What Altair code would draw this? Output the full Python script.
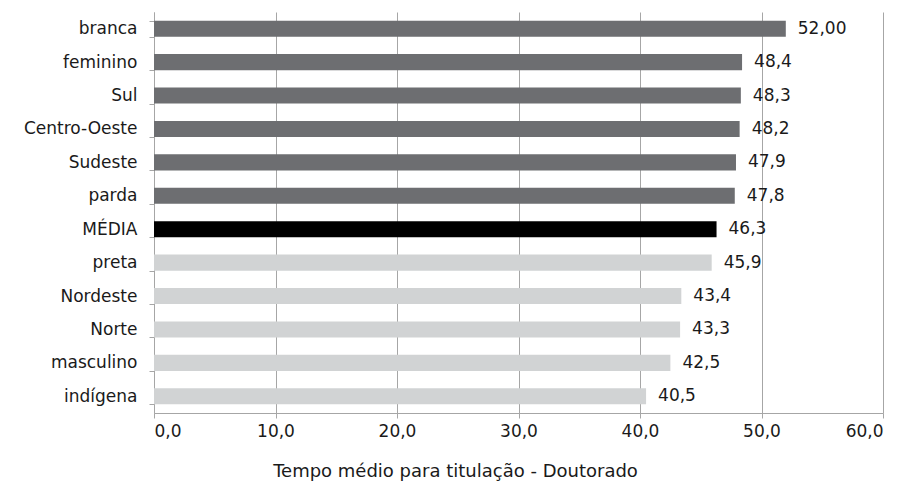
import altair as alt
import pandas as pd

categories = ["branca", "feminino", "Sul", "Centro-Oeste", "Sudeste", "parda",
              "MÉDIA", "preta", "Nordeste", "Norte", "masculino", "indígena"]
values = [52.0, 48.4, 48.3, 48.2, 47.9, 47.8, 46.3, 45.9, 43.4, 43.3, 42.5, 40.5]
value_labels = ["52,00", "48,4", "48,3", "48,2", "47,9", "47,8", "46,3", "45,9",
                "43,4", "43,3", "42,5", "40,5"]
groups = ["acima", "acima", "acima", "acima", "acima", "acima", "media",
          "abaixo", "abaixo", "abaixo", "abaixo", "abaixo"]

df = pd.DataFrame({"cat": categories, "val": values, "lab": value_labels, "grp": groups})

FONT = "DejaVu Sans"
FS = 17
GRID = "#a6a6a6"
TXT = "#1a1a1a"

bars = alt.Chart(df).mark_bar().encode(
    x=alt.X("val:Q", title="Tempo médio para titulação - Doutorado",
            scale=alt.Scale(domain=[0, 60], nice=False),
            axis=alt.Axis(values=[0, 10, 20, 30, 40, 50, 60],
                          labelExpr="replace(format(datum.value, '.1f'), '.', ',')",
                          grid=True, gridColor=GRID, gridWidth=1,
                          domainColor=GRID, tickColor=GRID, tickSize=5,
                          labelPadding=5, labelFontSize=FS, labelColor=TXT,
                          titleFontSize=18, titleFontWeight="normal", titleColor=TXT,
                          titleX=301, titleY=63, titleBaseline="alphabetic",
                          titleAnchor="middle")),
    y=alt.Y("cat:N", sort=categories, title=None,
            scale=alt.Scale(paddingInner=0.52, paddingOuter=0.26),
            axis=alt.Axis(tickBand="extent", tickSize=5, tickColor=GRID,
                          domainColor=GRID, labelPadding=12, labelFontSize=FS,
                          labelColor=TXT, grid=False)),
    color=alt.Color("grp:N", legend=None,
                    scale=alt.Scale(domain=["acima", "media", "abaixo"],
                                    range=["#6d6e71", "#000000", "#d1d3d4"])),
)

text = alt.Chart(df).mark_text(align="left", baseline="middle", dx=12, fontSize=FS,
                               font=FONT, color=TXT).encode(
    x="val:Q",
    y=alt.Y("cat:N", sort=categories),
    text="lab:N",
)

chart = (bars + text).properties(
    width=729, height=401,
    autosize=alt.AutoSizeParams(type="none"),
    padding={"left": 154, "top": 12, "right": 34, "bottom": 69},
).configure(font=FONT).configure_view(stroke=None)

chart.save("out.html", embed_options={"renderer": "svg", "actions": False})
